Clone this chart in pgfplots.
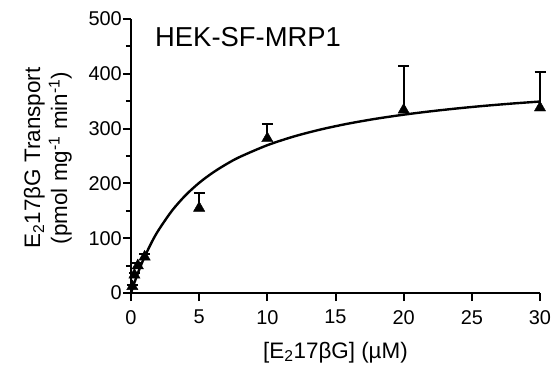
\documentclass[border=0pt]{standalone}
\usepackage{fontspec}
\setmainfont{Liberation Sans}
\usepackage{pgfplots}
\pgfplotsset{compat=1.18}
\begin{document}
\begin{tikzpicture}
\useasboundingbox (-131bp,-77bp) rectangle (423bp,293bp);
\begin{axis}[
  scale only axis,
  width=409bp, height=274bp,
  at={(0,0)}, anchor=south west,
  xmin=0, xmax=30, ymin=0, ymax=500,
  axis lines=left,
  axis line style={line width=2.4bp, -},
  every tick/.style={line width=2bp, black},
  tick align=outside,
  major tick length=8bp, minor tick length=5bp,
  xtick={0,5,...,30},
  ytick={0,100,...,500},
  minor ytick={50,150,...,450},
  /pgf/number format/assume math mode=true,
  tick label style={font=\fontsize{20}{22}\selectfont},
  yticklabel style={inner sep=1bp, xshift=0bp},
  xticklabel style={inner sep=1bp, yshift=-8bp},
  clip=false,
  xlabel={[E\textsubscript{2}17βG] (µM)},
  xlabel style={at={([yshift=-65bp]axis description cs:0.5,0)}, anchor=base, font=\fontsize{22.5}{26}\selectfont},
  ylabel={E\textsubscript{2}17βG Transport\\(pmol mg\textsuperscript{-1} min\textsuperscript{-1})},
  ylabel style={at={([xshift=-59bp,yshift=-2bp]axis description cs:0,0.5)}, anchor=south, inner sep=0pt, align=center, font=\fontsize{22.5}{27}\selectfont},
]
\addplot[black, line width=2.4bp, smooth] coordinates {
(0,0) (0.25,18.8) (0.5,36.0) (0.75,51.7) (1,66.1) (1.5,91.8) (2,113.9) (3,150.0) (4,178.3) (5,201.0) (6,219.6) (7,235.2) (8,248.5) (10,269.7) (12,286.0) (14,298.9) (16,309.4) (18,318.1) (20,325.4) (22,331.6) (24,337.0) (26,341.7) (28,345.8) (30,349.4)
};
\addplot[black, only marks, mark=triangle*, mark size=6.5bp,
  error bars/.cd, y dir=plus, y explicit,
  error bar style={line width=2bp, black},
  error mark options={rotate=90, mark size=5.5bp, line width=2bp, black}]
  coordinates {
  (0.1,12) +- (0,3)
  (0.25,33) +- (0,4)
  (0.5,50) +- (0,4)
  (1,66) +- (0,5)
  (5,155) +- (0,27)
  (10,282) +- (0,26)
  (20,334) +- (0,80)
  (30,338) +- (0,66)
};
\node[anchor=base west, font=\fontsize{27.5}{30}\selectfont, inner sep=0] at (axis cs:1.76,449) {HEK-SF-MRP1};
\end{axis}
\end{tikzpicture}
\end{document}
